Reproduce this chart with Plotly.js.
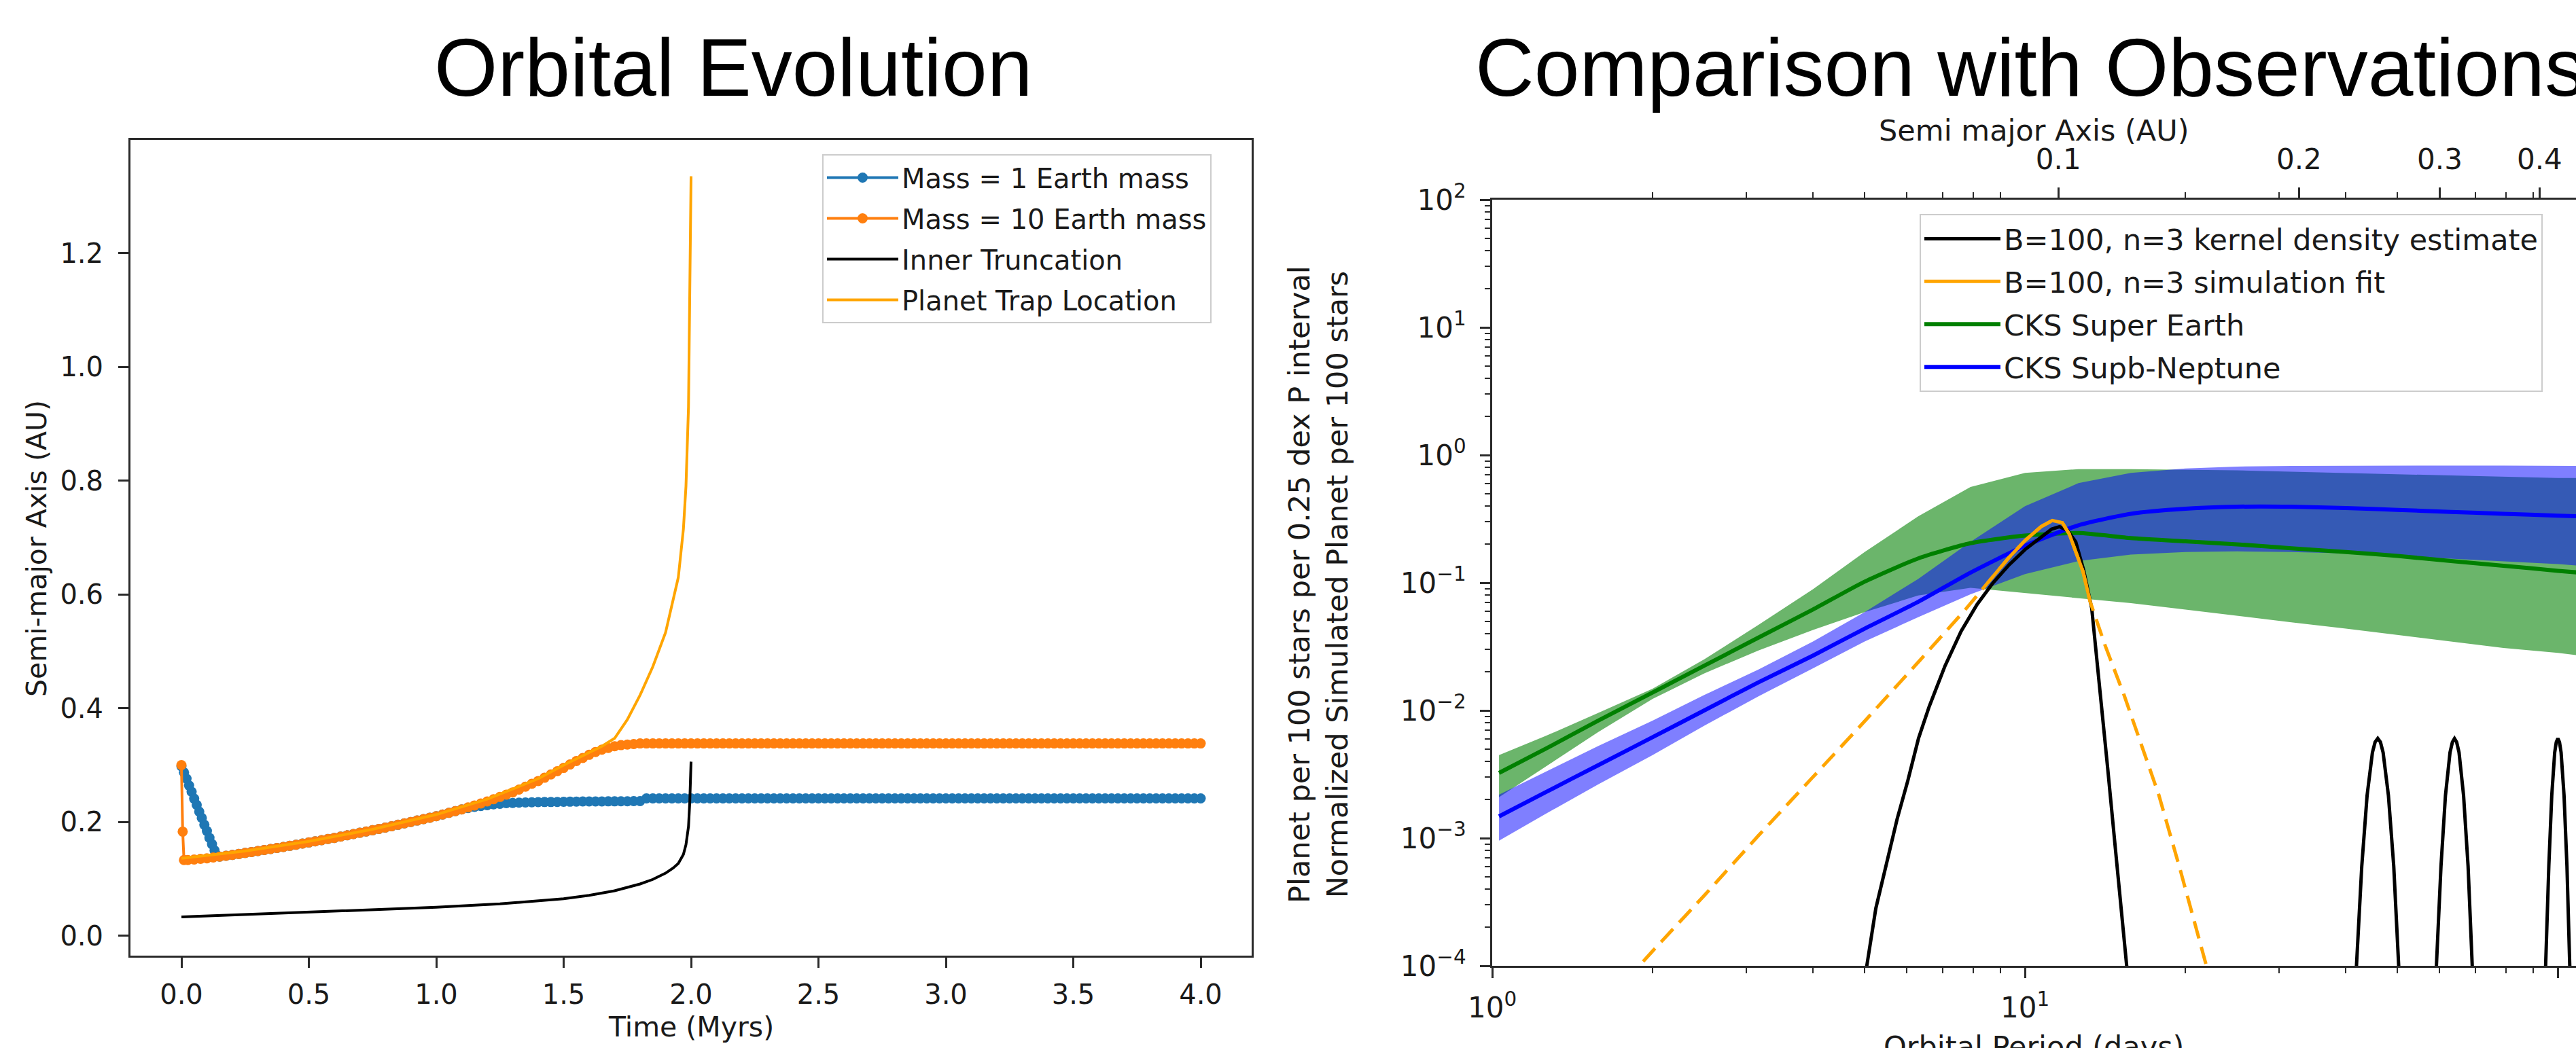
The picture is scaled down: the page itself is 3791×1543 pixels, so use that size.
<!DOCTYPE html>
<html><head><meta charset="utf-8">
<script src="https://cdn.plot.ly/plotly-3.0.1.min.js"></script>
<style>html,body{margin:0;padding:0;background:#fff;}#chart{width:3791px;height:1543px;}</style>
</head><body><div id="chart"></div>
<script>
// ================= LEFT PANEL: Orbital Evolution =================
const gridTime = [0.15,0.175,0.2,0.225,0.25,0.275,0.3,0.325,0.35,0.375,0.4,0.425,0.45,0.475,0.5,0.525,0.55,0.575,0.6,0.625,0.65,0.675,0.7,0.725,0.75,0.775,0.8,0.825,0.85,0.875,0.9,0.925,0.95,0.975,1.0,1.025,1.05,1.075,1.1,1.125,1.15,1.175,1.2,1.225,1.25,1.275,1.3,1.325,1.35,1.375,1.4,1.425,1.45,1.475,1.5,1.525,1.55,1.575,1.6,1.625,1.65,1.675,1.7,1.725,1.75,1.775,1.8,1.825,1.85,1.875,1.9,1.925,1.95,1.975,2.0,2.025,2.05,2.075,2.1,2.125,2.15,2.175,2.2,2.225,2.25,2.275,2.3,2.325,2.35,2.375,2.4,2.425,2.45,2.475,2.5,2.525,2.55,2.575,2.6,2.625,2.65,2.675,2.7,2.725,2.75,2.775,2.8,2.825,2.85,2.875,2.9,2.925,2.95,2.975,3.0,3.025,3.05,3.075,3.1,3.125,3.15,3.175,3.2,3.225,3.25,3.275,3.3,3.325,3.35,3.375,3.4,3.425,3.45,3.475,3.5,3.525,3.55,3.575,3.6,3.625,3.65,3.675,3.7,3.725,3.75,3.775,3.8,3.825,3.85,3.875,3.9,3.925,3.95,3.975,4.0];

// Mass = 1 Earth mass
const blueEarlyTime = [0,0.01,0.02,0.03,0.04,0.05,0.06,0.07,0.08,0.09,0.10,0.11,0.12,0.13,0.14];
const blueEarlyAxis = [0.298,0.287,0.276,0.264,0.253,0.241,0.230,0.218,0.207,0.195,0.184,0.172,0.161,0.150,0.141];
const blueGridAxis = [0.139,0.1405,0.142,0.1437,0.1455,0.1472,0.149,0.1507,0.1525,0.1542,0.156,0.158,0.160,0.162,0.164,0.166,0.168,0.170,0.172,0.1742,0.1765,0.1787,0.181,0.1832,0.1855,0.1877,0.190,0.1925,0.195,0.1975,0.200,0.2025,0.205,0.2075,0.210,0.213,0.216,0.219,0.222,
0.2245,0.2265,0.228,0.2295,0.231,0.232,0.233,0.2335,0.234,0.2343,0.2346,0.2348,0.235,0.235,0.2352,0.2354,0.2356,0.2358,0.236,0.236,0.236,0.236,0.2362,0.2362,0.2364,0.2364,0.2366,0.2366,
0.2415,0.2415,0.2415,0.2415,0.2415,0.2415,0.2415,0.2415,0.2415,0.2415,0.2415,0.2415,0.2415,0.2415,0.2415,0.2415,0.2415,0.2415,0.2415,0.2415,0.2415,0.2415,0.2415,0.2415,0.2415,0.2415,0.2415,0.2415,0.2415,0.2415,0.2415,0.2415,0.2415,0.2415,0.2415,0.2415,0.2415,0.2415,0.2415,0.2415,0.2415,0.2415,0.2415,0.2415,0.2415,0.2415,0.2415,0.2415,0.2415,0.2415,0.2415,0.2415,0.2415,0.2415,0.2415,0.2415,0.2415,0.2415,0.2415,0.2415,0.2415,0.2415,0.2415,0.2415,0.2415,0.2415,0.2415,0.2415,0.2415,0.2415,0.2415,0.2415,0.2415,0.2415,0.2415,0.2415,0.2415,0.2415,0.2415,0.2415,0.2415,0.2415,0.2415,0.2415,0.2415,0.2415,0.2415,0.2415];

// Mass = 10 Earth mass
const orangeEarlyTime = [0,0.005,0.01,0.025,0.05,0.075,0.1,0.125];
const orangeEarlyAxis = [0.300,0.183,0.133,0.133,0.134,0.135,0.136,0.1375];
const orangeGridAxis = [0.139,0.1405,0.142,0.1437,0.1455,0.1472,0.149,0.1507,0.1525,0.1542,0.156,0.158,0.160,0.162,0.164,0.166,0.168,0.170,0.172,0.1742,0.1765,0.1787,0.181,0.1832,0.1855,0.1877,0.190,0.1925,0.195,0.1975,0.200,0.2025,0.205,0.2075,0.210,0.213,0.216,0.219,0.222,
0.2255,0.229,0.2325,0.236,0.240,0.244,0.248,0.252,0.257,0.262,0.267,0.272,0.2777,0.2835,0.2892,0.295,0.301,0.307,0.3125,0.318,0.323,0.327,0.330,0.333,0.335,0.336,0.337,0.338,
0.338,0.338,0.338,0.338,0.338,0.338,0.338,0.338,0.338,0.338,0.338,0.338,0.338,0.338,0.338,0.338,0.338,0.338,0.338,0.338,0.338,0.338,0.338,0.338,0.338,0.338,0.338,0.338,0.338,0.338,0.338,0.338,0.338,0.338,0.338,0.338,0.338,0.338,0.338,0.338,0.338,0.338,0.338,0.338,0.338,0.338,0.338,0.338,0.338,0.338,0.338,0.338,0.338,0.338,0.338,0.338,0.338,0.338,0.338,0.338,0.338,0.338,0.338,0.338,0.338,0.338,0.338,0.338,0.338,0.338,0.338,0.338,0.338,0.338,0.338,0.338,0.338,0.338,0.338,0.338,0.338,0.338,0.338,0.338,0.338,0.338,0.338,0.338];

// Inner truncation
const truncTime = [0,0.25,0.5,0.75,1.0,1.25,1.5,1.6,1.7,1.8,1.85,1.9,1.93,1.95,1.97,1.98,1.99,1.995,2.0];
const truncAxis = [0.033,0.037,0.041,0.045,0.050,0.056,0.065,0.071,0.079,0.091,0.099,0.110,0.119,0.127,0.143,0.160,0.192,0.235,0.306];

// Planet trap location
const trapTime = [0,0.25,0.5,0.75,1.0,1.2,1.4,1.5,1.6,1.65,1.7,1.75,1.8,1.85,1.9,1.95,1.97,1.98,1.99,1.995,2.0];
const trapAxis = [0.136,0.149,0.166,0.187,0.213,0.240,0.276,0.300,0.322,0.333,0.347,0.380,0.423,0.473,0.533,0.630,0.715,0.790,0.930,1.100,1.335];

const leftTimeTicks = [0,0.5,1,1.5,2,2.5,3,3.5,4];
const leftAxisTicks = [0,0.2,0.4,0.6,0.8,1.0,1.2];

// ================= RIGHT PANEL: Comparison with Observations =================
const cksPeriod = [1.03,1.26,1.58,2.0,2.5,3.16,4.0,5.0,6.3,7.9,10,12.6,15.8,20,25,31.6,40,50,63,79,100,110];
const superEarth      = [0.00324,0.00501,0.00832,0.0138,0.0224,0.0372,0.0617,0.102,0.155,0.204,0.234,0.245,0.224,0.211,0.200,0.186,0.174,0.162,0.148,0.136,0.124,0.120];
const superEarthUpper = [0.00447,0.00631,0.00955,0.0148,0.0251,0.0468,0.0891,0.174,0.331,0.562,0.724,0.776,0.776,0.767,0.759,0.741,0.724,0.708,0.692,0.676,0.661,0.661];
const superEarthLower = [0.00209,0.00363,0.00676,0.0123,0.0195,0.0295,0.0427,0.0589,0.0794,0.0912,0.0832,0.0759,0.0692,0.0617,0.0550,0.0490,0.0437,0.0389,0.0347,0.0309,0.0282,0.0269];
const subNeptune      = [0.00148,0.00229,0.00372,0.00617,0.0100,0.0166,0.0269,0.0437,0.0708,0.120,0.195,0.282,0.347,0.380,0.394,0.394,0.385,0.372,0.359,0.347,0.335,0.331];
const subNeptuneUpper = [0.00219,0.00331,0.00525,0.00832,0.0132,0.0209,0.0347,0.0589,0.107,0.209,0.398,0.603,0.724,0.785,0.813,0.822,0.826,0.828,0.828,0.826,0.822,0.822];
const subNeptuneLower = [0.000955,0.00155,0.00263,0.00447,0.00759,0.0129,0.0214,0.0347,0.0537,0.0813,0.117,0.148,0.166,0.174,0.176,0.174,0.170,0.162,0.155,0.148,0.140,0.136];

// simulation fit (B=100, n=3)
const fitPeriod = [1.778,1.995,2.512,3.162,3.981,5.012,6.310,7.691,8.511,9.333,10.0,10.72,11.25,11.75,12.11,12.47,12.85,13.24,14.13,15.35,16.60,17.82,19.50,21.63,22.91];
const fitRate   = [7.59e-5,1.29e-4,3.63e-4,1.05e-3,2.95e-3,8.32e-3,0.0240,0.0603,0.100,0.158,0.214,0.275,0.307,0.295,0.240,0.174,0.122,0.0718,0.0324,0.0131,5.13e-3,2.19e-3,5.89e-4,1.17e-4,5.0e-5];
const fitSolidRange = [8.2, 13.3]; // period span covered by the simulated planets

// kernel density estimate (B=100, n=3)
const kdePeriod = [4.898,5.047,5.248,5.495,5.754,6.026,6.310,6.607,7.079,7.586,8.128,8.710,9.333,10.0,10.72,11.22,11.61,12.02,12.45,12.88,13.34,13.80,14.29,14.79,15.49,15.85,null,
  41.30,41.88,42.85,43.85,44.87,45.39,45.92,46.45,46.99,48.08,49.20,50.35,51.05,null,
  58.48,59.16,60.34,61.52,62.74,63.39,63.97,64.57,65.24,66.53,67.84,69.18,69.98,null,
  94.19,94.84,96.16,97.39,98.63,99.31,100.0,100.7,101.4,102.7,104.0,105.4,106.2];
const kdeRate = [3.16e-5,1.0e-4,2.82e-4,6.31e-4,1.41e-3,2.82e-3,6.03e-3,0.0107,0.0224,0.0417,0.0676,0.100,0.138,0.182,0.229,0.263,0.275,0.257,0.209,0.126,0.0631,0.0158,3.55e-3,7.94e-4,1.02e-4,3.98e-5,null,
  2.69e-5,1.0e-4,6.03e-4,2.16e-3,4.68e-3,5.65e-3,6.03e-3,5.65e-3,4.68e-3,2.16e-3,6.03e-4,1.0e-4,2.69e-5,null,
  2.69e-5,1.0e-4,6.03e-4,2.16e-3,4.68e-3,5.65e-3,6.03e-3,5.65e-3,4.68e-3,2.16e-3,6.03e-4,1.0e-4,2.69e-5,null,
  2.69e-5,1.0e-4,6.03e-4,2.16e-3,4.68e-3,5.65e-3,6.03e-3,5.65e-3,4.68e-3,2.16e-3,6.03e-4,1.0e-4,2.69e-5];

const semiMajorTicks = [0.1,0.2,0.3,0.4];            // AU, top axis labels
const periodMajorTicks = [1,10,100];
const rateMajorTicks = [1e-4,1e-3,1e-2,1e-1,1,10,100];
const minorMultipliers = [2,3,4,5,6,7,8,9];
const daysPerYear = 365.25;                           // Kepler's law, 1 solar mass

// ================= build =================
const W = 3791, H = 1543;
const px = v => v / W, py = v => 1 - v / H;
const FONT = 'DejaVu Sans, Verdana, sans-serif';
const AX = '#2a2a2a';

const blueTime = blueEarlyTime.concat(gridTime);
const blueAxis = blueEarlyAxis.concat(blueGridAxis);
const orangeTime = orangeEarlyTime.concat(gridTime);
const orangeAxis = orangeEarlyAxis.concat(orangeGridAxis);

const solidIdx = fitPeriod.map((p, i) => (p >= fitSolidRange[0] && p <= fitSolidRange[1]) ? i : -1).filter(i => i >= 0);
const solidPeriod = solidIdx.map(i => fitPeriod[i]);
const solidRate = solidIdx.map(i => fitRate[i]);

const expLabel = v => { const e = Math.round(Math.log10(v)); return '10<sup>' + (e < 0 ? '\u2212' + (-e) : e) + '</sup>'; };
const minorOf = majors => majors.slice(0, -1).flatMap(m => minorMultipliers.map(k => k * m));
const semiMajorTickPeriods = semiMajorTicks.map(a => daysPerYear * Math.pow(a, 1.5));

const data = [
  {x: blueTime, y: blueAxis, type: 'scatter', mode: 'lines+markers', name: 'Mass = 1 Earth mass', legendgroup: 'l1',
   line: {color: '#1f77b4', width: 4}, marker: {color: '#1f77b4', size: 15}, xaxis: 'x', yaxis: 'y', legend: 'legend'},
  {x: orangeTime, y: orangeAxis, type: 'scatter', mode: 'lines+markers', name: 'Mass = 10 Earth mass', legendgroup: 'l2',
   line: {color: '#ff7f0e', width: 4}, marker: {color: '#ff7f0e', size: 15}, xaxis: 'x', yaxis: 'y', legend: 'legend'},
  {x: truncTime, y: truncAxis, type: 'scatter', mode: 'lines', name: 'Inner Truncation', legendgroup: 'l3',
   line: {color: 'black', width: 4}, xaxis: 'x', yaxis: 'y', legend: 'legend'},
  {x: trapTime, y: trapAxis, type: 'scatter', mode: 'lines', name: 'Planet Trap Location', legendgroup: 'l4',
   line: {color: '#ffa500', width: 4}, xaxis: 'x', yaxis: 'y', legend: 'legend'},

  // right panel bands
  {x: cksPeriod, y: superEarthLower, type: 'scatter', mode: 'lines', line: {width: 0, color: 'rgba(0,0,0,0)'},
   showlegend: false, hoverinfo: 'skip', xaxis: 'x2', yaxis: 'y2', legend: 'legend2', legendgroup: 'r3'},
  {x: cksPeriod, y: superEarthUpper, type: 'scatter', mode: 'lines', line: {width: 0, color: 'rgba(0,0,0,0)'},
   fill: 'tonexty', fillcolor: 'rgba(0,128,0,0.58)', showlegend: false, hoverinfo: 'skip', xaxis: 'x2', yaxis: 'y2', legend: 'legend2', legendgroup: 'r3'},
  {x: cksPeriod, y: subNeptuneLower, type: 'scatter', mode: 'lines', line: {width: 0, color: 'rgba(0,0,0,0)'},
   showlegend: false, hoverinfo: 'skip', xaxis: 'x2', yaxis: 'y2', legend: 'legend2', legendgroup: 'r4'},
  {x: cksPeriod, y: subNeptuneUpper, type: 'scatter', mode: 'lines', line: {width: 0, color: 'rgba(0,0,0,0)'},
   fill: 'tonexty', fillcolor: 'rgba(0,0,255,0.5)', showlegend: false, hoverinfo: 'skip', xaxis: 'x2', yaxis: 'y2', legend: 'legend2', legendgroup: 'r4'},
  {x: cksPeriod, y: superEarth, type: 'scatter', mode: 'lines', name: 'CKS Super Earth', legendrank: 3, legendgroup: 'r3',
   line: {color: '#008000', width: 6, shape: 'spline', smoothing: 0.6}, xaxis: 'x2', yaxis: 'y2', legend: 'legend2'},
  {x: cksPeriod, y: subNeptune, type: 'scatter', mode: 'lines', name: 'CKS Supb-Neptune', legendrank: 4, legendgroup: 'r4',
   line: {color: '#0000ff', width: 6, shape: 'spline', smoothing: 0.6}, xaxis: 'x2', yaxis: 'y2', legend: 'legend2'},
  {x: kdePeriod, y: kdeRate, type: 'scatter', mode: 'lines', name: 'B=100, n=3 kernel density estimate', legendrank: 1, legendgroup: 'r1',
   connectgaps: false, line: {color: 'black', width: 5}, xaxis: 'x2', yaxis: 'y2', legend: 'legend2'},
  {x: fitPeriod, y: fitRate, type: 'scatter', mode: 'lines', showlegend: false, legendgroup: 'r2',
   line: {color: '#ffa500', width: 5, dash: '26px,13px'}, xaxis: 'x2', yaxis: 'y2', legend: 'legend2'},
  {x: solidPeriod, y: solidRate, type: 'scatter', mode: 'lines', name: 'B=100, n=3 simulation fit', legendrank: 2, legendgroup: 'r2',
   line: {color: '#ffa500', width: 5}, xaxis: 'x2', yaxis: 'y2', legend: 'legend2'},
  // carrier for the secondary (semi-major axis) scale
  {x: semiMajorTickPeriods, y: semiMajorTickPeriods.map(() => 1), type: 'scatter', mode: 'markers',
   marker: {opacity: 0}, showlegend: false, hoverinfo: 'skip', xaxis: 'x3', yaxis: 'y2', legend: 'legend2', legendgroup: 'r9'}
];

const leftTick = {family: FONT, size: 40, color: '#1a1a1a'};
const rightTick = {family: FONT, size: 42, color: '#1a1a1a'};
const axisCommon = {showgrid: false, zeroline: false, showline: true, linecolor: AX, linewidth: 3,
  ticks: 'outside', ticklen: 15, tickwidth: 3, tickcolor: AX};

const layout = {
  width: W, height: H, margin: {l: 0, r: 0, t: 0, b: 0}, paper_bgcolor: '#ffffff', plot_bgcolor: '#ffffff',
  showlegend: true,
  xaxis: Object.assign({}, axisCommon, {domain: [px(192), px(1842)], range: [-0.2, 4.2], anchor: 'y', mirror: true,
    tickmode: 'array', tickvals: leftTimeTicks, ticktext: leftTimeTicks.map(v => v.toFixed(1)),
    tickfont: leftTick, ticklabelstandoff: 5}),
  yaxis: Object.assign({}, axisCommon, {domain: [py(1407), py(206)], range: [-0.035, 1.399], anchor: 'x', mirror: true,
    tickmode: 'array', tickvals: leftAxisTicks, ticktext: leftAxisTicks.map(v => v.toFixed(1)),
    tickfont: leftTick, ticklabelstandoff: 14}),
  xaxis2: Object.assign({}, axisCommon, {domain: [px(2196), 1], type: 'log', range: [0, 2.034], anchor: 'y2',
    tickmode: 'array', tickvals: periodMajorTicks, ticktext: periodMajorTicks.map(expLabel),
    minor: {tickmode: 'array', tickvals: minorOf(periodMajorTicks.concat([1000])), ticks: 'outside', ticklen: 8, tickwidth: 2, tickcolor: AX},
    tickfont: rightTick, ticklabelstandoff: 8}),
  yaxis2: Object.assign({}, axisCommon, {domain: [py(1422), py(294)], type: 'log', range: [-4, 2], anchor: 'x2',
    tickmode: 'array', tickvals: rateMajorTicks, ticktext: rateMajorTicks.map(expLabel),
    minor: {tickmode: 'array', tickvals: minorOf(rateMajorTicks), ticks: 'outside', ticklen: 8, tickwidth: 2, tickcolor: AX},
    tickfont: rightTick, ticklabelstandoff: 12}),
  xaxis3: Object.assign({}, axisCommon, {overlaying: 'x2', anchor: 'y2', side: 'top', type: 'log', range: [0, 2.034],
    tickmode: 'array', tickvals: semiMajorTickPeriods, ticktext: semiMajorTicks.map(String),
    minor: {tickmode: 'array', tickvals: [2,3,4,5,6,7,8,9,20,30,40,50,60,70,80,90], ticks: 'outside', ticklen: 8, tickwidth: 2, tickcolor: AX},
    tickfont: rightTick, ticklabelstandoff: 10}),
  legend: {x: px(1210), y: py(227), xanchor: 'left', yanchor: 'top', bgcolor: 'rgba(255,255,255,0.9)',
    bordercolor: '#cccccc', borderwidth: 2, font: {family: FONT, size: 40, color: '#1a1a1a'},
    traceorder: 'grouped', tracegroupgap: 5, itemwidth: 105},
  legend2: {x: px(2825), y: py(315), xanchor: 'left', yanchor: 'top', bgcolor: 'rgba(255,255,255,0.9)',
    bordercolor: '#cccccc', borderwidth: 2, font: {family: FONT, size: 43, color: '#1a1a1a'},
    traceorder: 'grouped', tracegroupgap: 4, itemwidth: 112},
  annotations: [
    {text: 'Orbital Evolution', x: px(1079), y: py(99), xref: 'paper', yref: 'paper', xanchor: 'center', yanchor: 'middle',
     showarrow: false, font: {family: 'Liberation Sans, Arial, sans-serif', size: 120, color: '#000'}},
    {text: 'Comparison with Observations', x: px(2169), y: py(99), xref: 'paper', yref: 'paper', xanchor: 'left', yanchor: 'middle',
     showarrow: false, font: {family: 'Liberation Sans, Arial, sans-serif', size: 120, color: '#000'}},
    {text: 'Time (Myrs)', x: px(1017), y: py(1512), xref: 'paper', yref: 'paper', xanchor: 'center', yanchor: 'middle',
     showarrow: false, font: {family: FONT, size: 41, color: '#1a1a1a'}},
    {text: 'Semi-major Axis (AU)', x: px(54), y: py(808), xref: 'paper', yref: 'paper', xanchor: 'center', yanchor: 'middle',
     textangle: -90, showarrow: false, font: {family: FONT, size: 41, color: '#1a1a1a'}},
    {text: 'Semi major Axis (AU)', x: px(2993), y: py(192), xref: 'paper', yref: 'paper', xanchor: 'center', yanchor: 'middle',
     showarrow: false, font: {family: FONT, size: 43, color: '#1a1a1a'}},
    {text: 'Orbital Period (days)', x: px(2993), y: py(1541), xref: 'paper', yref: 'paper', xanchor: 'center', yanchor: 'middle',
     showarrow: false, font: {family: FONT, size: 43, color: '#1a1a1a'}},
    {text: 'Planet per 100 stars per 0.25 dex P interval<br>Normalized Simulated Planet per 100 stars', x: px(1940), y: py(861),
     xref: 'paper', yref: 'paper', xanchor: 'center', yanchor: 'middle', textangle: -90, showarrow: false,
     font: {family: FONT, size: 43, color: '#1a1a1a'}}
  ]
};

Plotly.newPlot('chart', data, layout, {staticPlot: true, displayModeBar: false});
</script>
</body></html>
